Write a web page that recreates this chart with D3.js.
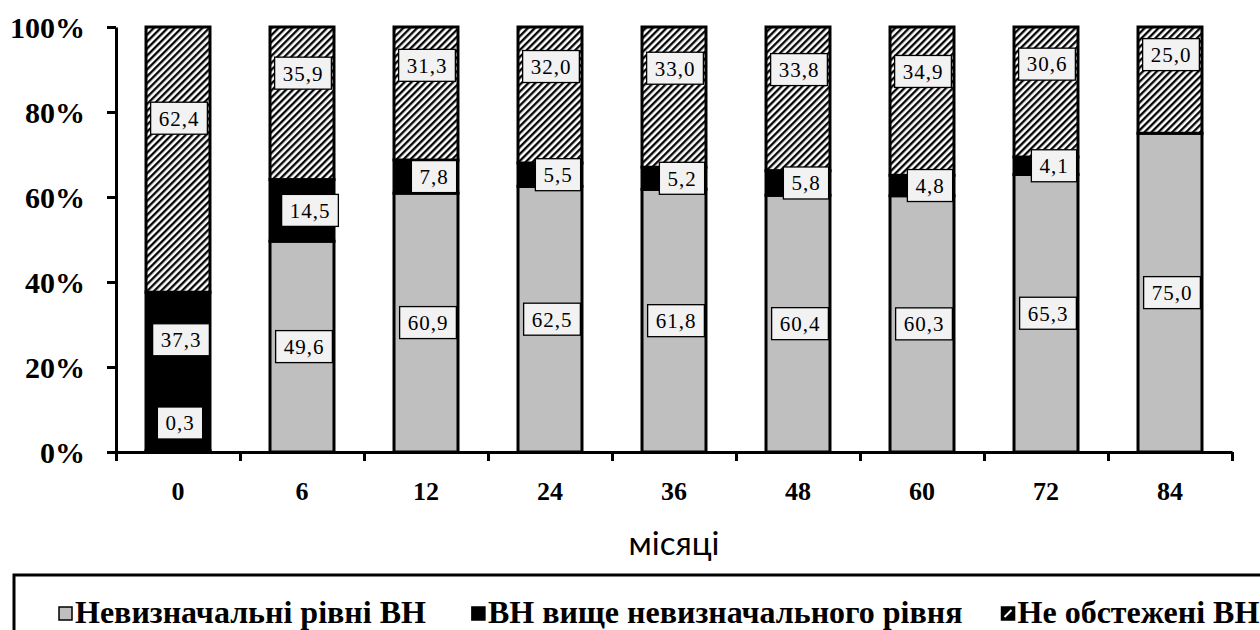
<!DOCTYPE html>
<html>
<head>
<meta charset="utf-8">
<script src="https://cdn.jsdelivr.net/npm/d3@7"></script>
<style>
  html, body { margin: 0; padding: 0; background: #fff; }
  svg { display: block; }
</style>
</head>
<body>
<svg id="chart" width="1260" height="630"></svg>
<script>
// Follow-up months
const categories = ["0", "6", "12", "24", "36", "48", "60", "72", "84"];
// Share of patients (%) per group
const undetectable = [0.3, 49.6, 60.9, 62.5, 61.8, 60.4, 60.3, 65.3, 75.0];
const detectable   = [37.3, 14.5, 7.8, 5.5, 5.2, 5.8, 4.8, 4.1, 0.0];
const notTested    = [62.4, 35.9, 31.3, 32.0, 33.0, 33.8, 34.9, 30.6, 25.0];
// Axis ticks and legend names
const yTicks = [0, 20, 40, 60, 80, 100];
const seriesNames = ["Невизначальні рівні ВН", "ВН вище невизначального рівня", "Не обстежені ВН"];
const xTitle = "місяці";

const svg = d3.select("#chart");
const serif = "'Liberation Serif', 'Times New Roman', serif";

const plot = { left: 116, right: 1232, top: 27, bottom: 452 };

const x = d3.scaleBand().domain(categories)
  .range([plot.left, plot.right]).paddingInner(0.484).paddingOuter(0.242);
const y = d3.scaleLinear().domain([0, 100]).range([plot.bottom, plot.top]);

// Diagonal hatch for the "not tested" group
const defs = svg.append("defs");
const hatch = defs.append("pattern")
  .attr("id", "hatch").attr("patternUnits", "userSpaceOnUse")
  .attr("width", 4.9).attr("height", 4.9)
  .attr("patternTransform", "rotate(45)");
hatch.append("rect").attr("width", 4.9).attr("height", 4.9).attr("fill", "#fff");
hatch.append("line").attr("x1", 1.2).attr("y1", 0).attr("x2", 1.2).attr("y2", 4.9)
  .attr("stroke", "#000").attr("stroke-width", 2.3);

const fills = ["#bfbfbf", "#000", "url(#hatch)"];

// Stacked layout
const rows = categories.map((c, i) => ({ cat: c, s0: undetectable[i], s1: detectable[i], s2: notTested[i] }));
const stacked = d3.stack().keys(["s0", "s1", "s2"])(rows);

// Bars
const barG = svg.append("g");
stacked.forEach((layer, k) => {
  barG.selectAll(null).data(layer).join("rect")
    .attr("x", d => x(d.data.cat))
    .attr("width", x.bandwidth())
    .attr("y", d => y(d[1]))
    .attr("height", d => y(d[0]) - y(d[1]))
    .attr("fill", fills[k])
    .attr("stroke", "#000")
    .attr("stroke-width", 3);
});

// Y axis
const yAxis = d3.axisLeft(y).tickValues(yTicks).tickFormat(d => d + "%")
  .tickSize(9).tickSizeOuter(0).tickPadding(22);
const yG = svg.append("g").attr("transform", `translate(${plot.left},0)`).call(yAxis);
yG.select(".domain").attr("stroke-width", 3);
yG.selectAll(".tick line").attr("stroke-width", 3);
yG.selectAll(".tick text").attr("font-family", serif).attr("font-weight", "bold")
  .attr("font-size", 30).attr("fill", "#000").attr("dy", "0.34em");

// X axis: boundary ticks between categories
const xEdge = d3.scaleLinear().domain([0, categories.length]).range([plot.left, plot.right]);
const xEdgeAxis = d3.axisBottom(xEdge).tickValues(d3.range(0, categories.length + 1))
  .tickFormat("").tickSize(9).tickSizeOuter(0);
const xG = svg.append("g").attr("transform", `translate(0,${plot.bottom})`).call(xEdgeAxis);
xG.select(".domain").attr("stroke-width", 3);
xG.selectAll(".tick line").attr("stroke-width", 3);

// X category labels
const xLab = d3.axisBottom(x).tickSize(0).tickPadding(30);
const xl = svg.append("g").attr("transform", `translate(0,${plot.bottom})`).call(xLab);
xl.select(".domain").remove();
xl.selectAll(".tick text").attr("font-family", serif).attr("font-weight", "bold")
  .attr("font-size", 26).attr("fill", "#000");

// Axis title
svg.append("text").attr("x", (plot.left + plot.right) / 2).attr("y", 555)
  .attr("text-anchor", "middle").attr("font-family", "Lato, 'Open Sans', sans-serif")
  .attr("font-size", 33).attr("fill", "#000").text(xTitle);

// Data labels
const fmt = v => d3.format(".1f")(v).replace(".", ",");
const labelG = svg.append("g");
function addLabel(cx, cy, v) {
  const g = labelG.append("g");
  const t = g.append("text").attr("x", cx).attr("y", cy).attr("dy", "0.35em")
    .attr("text-anchor", "middle").attr("font-family", serif).attr("font-size", 21)
    .attr("letter-spacing", 1).attr("fill", "#000").text(fmt(v));
  const w = t.node().getComputedTextLength() + 16;
  g.insert("rect", "text").attr("x", cx - w / 2).attr("y", cy - 16)
    .attr("width", w).attr("height", 32)
    .attr("fill", "#f2f2f2").attr("stroke", "#000").attr("stroke-width", 1.3);
}

categories.forEach((c, i) => {
  const cx = x(c) + x.bandwidth() / 2;
  const a = undetectable[i], b = detectable[i], h = notTested[i];
  // lowest group
  if (a > 0) {
    const cy = a < 2 ? y(0) - 29 : y(a / 2);
    addLabel(cx + 2, cy, a);
  }
  // middle group
  if (b > 0) {
    const v = a < 2 ? a + 0.7 * b : a + b / 2;
    addLabel(cx + (b < 20 ? 8 : 3), y(v), b);
  }
  // top group, placed in its upper part
  if (h > 0) {
    addLabel(cx + 1, y(100 - (0.4 * h - 3.5)), h);
  }
});

// Legend
const legG = svg.append("g");
legG.append("rect").attr("x", 14).attr("y", 575).attr("width", 1300).attr("height", 100)
  .attr("fill", "none").attr("stroke", "#000").attr("stroke-width", 3);
let lx = 59;
const gaps = [46, 39];
seriesNames.forEach((name, k) => {
  legG.append("rect").attr("x", lx).attr("y", 607).attr("width", 13).attr("height", 13)
    .attr("fill", k === 2 ? "#000" : fills[k]).attr("stroke", "#000").attr("stroke-width", 1.5);
  if (k === 2) {
    legG.append("line").attr("x1", lx + 3).attr("y1", 617).attr("x2", lx + 10).attr("y2", 610)
      .attr("stroke", "#fff").attr("stroke-width", 2);
  }
  const t = legG.append("text").attr("x", lx + 16).attr("y", 623)
    .attr("font-family", serif).attr("font-weight", "bold").attr("font-size", 32)
    .attr("fill", "#000").text(name);
  lx = lx + 16 + t.node().getComputedTextLength() + (gaps[k] || 0);
});
</script>
</body>
</html>
